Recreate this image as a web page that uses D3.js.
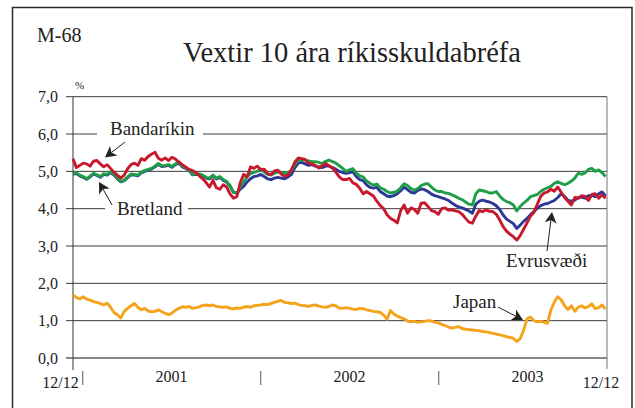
<!DOCTYPE html>
<html>
<head>
<meta charset="utf-8">
<script src="https://cdn.jsdelivr.net/npm/d3@7/dist/d3.min.js"></script>
<style>
  html, body { margin: 0; padding: 0; background: #fff; }
  svg { display: block; }
  text { font-family: "Liberation Serif", "Times New Roman", serif; fill: #222; }
</style>
</head>
<body>
<svg id="chart" width="635" height="408"></svg>
<script>
// Weekly observations, first week 12 Dec 2000
const firstDay = new Date(2000, 11, 12);
const lastDay = new Date(2003, 11, 12);

// Bandaríkin (US 10-year yield, %)
const bandarikin = [
  5.34,5.10,5.16,5.22,5.20,5.14,5.27,5.29,5.20,5.12,
  5.18,5.08,4.98,4.90,4.82,4.90,5.07,5.18,5.22,5.16,
  5.34,5.30,5.40,5.46,5.51,5.35,5.30,5.36,5.29,5.38,
  5.33,5.25,5.18,5.12,5.05,5.02,4.97,4.88,4.80,4.70,
  4.58,4.76,4.56,4.52,4.64,4.58,4.40,4.28,4.32,4.70,
  4.92,4.85,5.12,5.08,5.14,5.04,5.06,4.94,4.91,5.01,
  5.03,4.93,4.87,4.91,5.05,5.25,5.36,5.34,5.32,5.22,
  5.20,5.16,5.09,5.15,5.21,5.15,5.09,4.98,4.85,4.78,
  4.78,4.81,4.69,4.65,4.55,4.40,4.46,4.40,4.34,4.20,
  4.08,4.00,3.84,3.74,3.69,3.62,3.95,4.10,3.88,4.02,
  3.98,3.88,4.15,4.16,4.06,3.95,3.92,3.85,4.00,4.02,
  3.96,3.97,3.94,3.92,3.85,3.74,3.64,3.61,3.80,3.95,
  3.92,3.97,3.93,3.92,3.85,3.70,3.52,3.40,3.32,3.25,
  3.16,3.28,3.45,3.62,3.80,3.90,4.12,4.33,4.42,4.45,
  4.52,4.47,4.58,4.44,4.30,4.20,4.10,4.30,4.28,4.35,
  4.33,4.22,4.38,4.40,4.28,4.37,4.28
];

// Bretland (UK 10-year yield, %)
const bretland = [
  4.95,4.96,4.90,4.86,4.80,4.87,4.95,4.91,4.86,4.94,
  4.92,4.99,4.92,4.82,4.73,4.76,4.85,4.93,4.92,4.90,
  4.98,5.02,5.05,5.08,5.14,5.21,5.15,5.16,5.18,5.13,
  5.20,5.25,5.14,5.10,5.04,4.92,4.94,4.93,4.90,4.84,
  4.82,4.90,4.82,4.86,4.78,4.73,4.62,4.45,4.40,4.58,
  4.72,4.86,4.94,4.97,5.00,5.07,4.98,4.92,4.90,4.95,
  4.98,4.98,4.95,4.97,5.02,5.18,5.30,5.31,5.30,5.28,
  5.26,5.26,5.24,5.21,5.27,5.30,5.26,5.22,5.15,5.08,
  5.00,5.04,5.07,4.95,4.88,4.85,4.74,4.68,4.63,4.66,
  4.56,4.52,4.46,4.42,4.44,4.47,4.56,4.67,4.62,4.54,
  4.50,4.54,4.62,4.66,4.67,4.58,4.50,4.46,4.46,4.42,
  4.41,4.37,4.33,4.28,4.24,4.18,4.12,4.10,4.40,4.50,
  4.48,4.46,4.42,4.42,4.46,4.34,4.25,4.19,4.16,4.10,
  3.94,4.06,4.15,4.22,4.32,4.35,4.38,4.46,4.52,4.56,
  4.60,4.68,4.72,4.68,4.64,4.68,4.74,4.82,4.95,4.92,
  4.96,5.05,5.08,5.00,5.04,4.96,4.86
];

// Evrusvæði (euro area 10-year yield, %)
const evrusvaedi = [
  4.93,4.94,4.88,4.84,4.79,4.85,4.93,4.89,4.84,4.92,
  4.90,4.97,4.90,4.80,4.72,4.75,4.83,4.91,4.90,4.88,
  4.96,5.00,5.03,5.06,5.12,5.19,5.13,5.14,5.16,5.11,
  5.18,5.22,5.12,5.08,5.02,4.91,4.92,4.91,4.88,4.82,
  4.80,4.87,4.80,4.84,4.76,4.71,4.60,4.44,4.42,4.52,
  4.60,4.72,4.80,4.86,4.88,4.92,4.86,4.80,4.78,4.82,
  4.84,4.82,4.80,4.85,4.92,5.10,5.22,5.24,5.20,5.16,
  5.18,5.14,5.12,5.10,5.14,5.14,5.10,5.06,5.00,4.97,
  4.95,4.97,4.99,4.86,4.78,4.75,4.64,4.57,4.55,4.57,
  4.46,4.40,4.34,4.32,4.35,4.40,4.48,4.58,4.51,4.44,
  4.42,4.49,4.53,4.51,4.46,4.39,4.35,4.32,4.29,4.26,
  4.22,4.15,4.09,4.05,4.02,3.98,3.94,3.88,4.12,4.20,
  4.23,4.20,4.18,4.14,4.08,3.98,3.83,3.72,3.66,3.60,
  3.47,3.56,3.66,3.74,3.84,3.92,4.01,4.08,4.12,4.14,
  4.18,4.22,4.30,4.40,4.33,4.22,4.20,4.23,4.30,4.31,
  4.28,4.35,4.36,4.32,4.40,4.45,4.34
];

// Japan (10-year yield, %)
const japan = [
  1.69,1.62,1.58,1.64,1.58,1.55,1.51,1.49,1.46,1.42,
  1.47,1.36,1.22,1.16,1.07,1.25,1.33,1.40,1.46,1.36,
  1.29,1.33,1.26,1.24,1.25,1.29,1.24,1.20,1.16,1.20,
  1.28,1.33,1.37,1.36,1.38,1.33,1.35,1.37,1.41,1.42,
  1.40,1.42,1.38,1.37,1.36,1.37,1.33,1.32,1.34,1.33,
  1.36,1.38,1.36,1.40,1.41,1.42,1.44,1.43,1.46,1.49,
  1.52,1.54,1.49,1.48,1.46,1.47,1.43,1.41,1.40,1.38,
  1.41,1.42,1.39,1.37,1.36,1.38,1.42,1.40,1.34,1.33,
  1.35,1.33,1.31,1.30,1.33,1.32,1.29,1.27,1.25,1.24,
  1.22,1.15,1.04,1.27,1.18,1.12,1.08,1.05,0.99,0.97,
  0.98,0.96,0.97,0.98,1.00,0.99,0.96,0.94,0.90,0.87,
  0.83,0.80,0.82,0.84,0.79,0.77,0.76,0.75,0.74,0.73,
  0.71,0.70,0.68,0.66,0.64,0.62,0.60,0.57,0.55,0.53,
  0.44,0.52,0.74,1.05,1.10,1.00,0.97,0.98,0.96,0.93,
  1.29,1.50,1.64,1.56,1.40,1.30,1.40,1.25,1.36,1.40,
  1.34,1.38,1.45,1.32,1.35,1.42,1.31
];

const yTicks = [0, 1, 2, 3, 4, 5, 6, 7];
const yearLabels = ["2001", "2002", "2003"];
const endLabels = ["12/12", "12/12"];
const titleText = "Vextir 10 ára ríkisskuldabréfa";
const chartCode = "M-68";

const svg = d3.select("#chart");

const x = d3.scaleTime().domain([firstDay, lastDay]).range([73, 607]);
const y = d3.scaleLinear().domain([0, 7]).range([358, 96.7]);

const dates = bandarikin.map((_, i) => d3.timeDay.offset(firstDay, 7 * i));
const comma = d3.formatLocale({ decimal: ",", thousands: ".", grouping: [3], currency: ["", ""] }).format(".1f");

// outer frame
svg.append("rect")
  .attr("x", 12.5).attr("y", 7.5)
  .attr("width", 619.5).attr("height", 430)
  .attr("fill", "none").attr("stroke", "#2a2a2a").attr("stroke-width", 1.5);

svg.append("text").attr("x", 37).attr("y", 42)
  .attr("font-size", 20).text(chartCode);

svg.append("text").attr("x", 352).attr("y", 62)
  .attr("text-anchor", "middle").attr("font-size", 28.5).text(titleText);

svg.append("text").attr("x", 75).attr("y", 89)
  .attr("font-size", 11).text("%");

// horizontal grid with tick stubs
svg.append("g").selectAll("line").data(yTicks).join("line")
  .attr("x1", 66).attr("x2", 607)
  .attr("y1", d => y(d)).attr("y2", d => y(d))
  .attr("stroke", d => d === 0 ? "#111" : "#3a3a3a").attr("stroke-width", 1);

svg.append("g").selectAll("text").data(yTicks).join("text")
  .attr("x", 58).attr("y", d => y(d)).attr("dy", "0.36em")
  .attr("text-anchor", "end").attr("font-size", 16)
  .text(d => comma(d));

// vertical frame of the plot area
svg.append("line").attr("x1", x(firstDay)).attr("x2", x(firstDay))
  .attr("y1", y(7)).attr("y2", 370).attr("stroke", "#333").attr("stroke-width", 1);
svg.append("line").attr("x1", x(lastDay)).attr("x2", x(lastDay))
  .attr("y1", y(7)).attr("y2", 369).attr("stroke", "#777").attr("stroke-width", 1);

// year separators and labels
const yearStarts = yearLabels.map(s => new Date(+s, 0, 1));
svg.append("g").selectAll("line").data(yearStarts).join("line")
  .attr("x1", d => x(d)).attr("x2", d => x(d))
  .attr("y1", 371).attr("y2", 385)
  .attr("stroke", "#555").attr("stroke-width", 1);

svg.append("g").selectAll("text").data(yearLabels).join("text")
  .attr("x", d => x(new Date(+d, 6, 2)))
  .attr("y", 381.5).attr("text-anchor", "middle").attr("font-size", 16)
  .text(d => d);

svg.append("g").selectAll("text").data(endLabels).join("text")
  .attr("x", (d, i) => i === 0 ? x(firstDay) - 12.5 : x(lastDay) - 6)
  .attr("y", 387.5).attr("text-anchor", "middle").attr("font-size", 16)
  .text(d => d);

// label boxes that break the grid lines
const seriesLabels = [
  { text: "Bandaríkin", x: 110, y: 135, gap: [97, 203] },
  { text: "Bretland", x: 117, y: 215, gap: [105, 188] },
  { text: "Evrusvæði", x: 506, y: 267, gap: [495, 599] },
  { text: "Japan", x: 453, y: 308, gap: null }
];
svg.append("g").selectAll("rect").data(seriesLabels.filter(d => d.gap)).join("rect")
  .attr("x", d => d.gap[0]).attr("width", d => d.gap[1] - d.gap[0])
  .attr("y", d => d.y - 15).attr("height", 20)
  .attr("fill", "#fff");

// series
const line = d3.line()
  .x((d, i) => x(dates[i]))
  .y(d => y(d));

const series = [
  { values: evrusvaedi, color: "#2b3896" },
  { values: bretland, color: "#1e9e46" },
  { values: bandarikin, color: "#c8182c" },
  { values: japan, color: "#f5a31a" }
];
svg.append("g").selectAll("path").data(series).join("path")
  .attr("d", d => line(d.values))
  .attr("fill", "none")
  .attr("stroke", d => d.color)
  .attr("stroke-width", 2.9)
  .attr("stroke-linejoin", "round");

// labels and pointers
svg.append("g").selectAll("text").data(seriesLabels).join("text")
  .attr("x", d => d.x).attr("y", d => d.y)
  .attr("font-size", 19).text(d => d.text);

const pointers = [
  { from: [125, 142], to: [105, 157.5] },
  { from: [112, 205], to: [99, 182] },
  { from: [547, 251], to: [552, 212] },
  { from: [498, 307], to: [523, 320] }
];
const pg = svg.append("g");
pointers.forEach(p => {
  const [x0, y0] = p.from, [x1, y1] = p.to;
  const ang = Math.atan2(y1 - y0, x1 - x0);
  const len = 11, half = 6, notch = 3;
  const bx = x1 - len * Math.cos(ang), by = y1 - len * Math.sin(ang);
  const nx = -Math.sin(ang), ny = Math.cos(ang);
  const mx = x1 - (len - notch) * Math.cos(ang), my = y1 - (len - notch) * Math.sin(ang);
  pg.append("line")
    .attr("x1", x0).attr("y1", y0).attr("x2", mx).attr("y2", my)
    .attr("stroke", "#222").attr("stroke-width", 1);
  pg.append("path")
    .attr("d", `M${x1},${y1}L${bx + nx * half},${by + ny * half}L${mx},${my}L${bx - nx * half},${by - ny * half}Z`)
    .attr("fill", "#222");
});
</script>
</body>
</html>
